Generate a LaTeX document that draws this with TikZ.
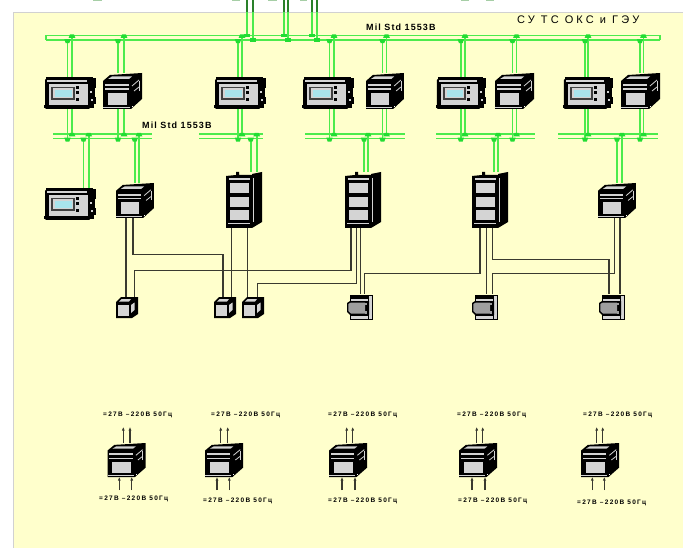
\documentclass[tikz,border=0pt]{standalone}
\usepackage{fontspec}
\setmainfont{Liberation Sans}
\newfontfamily\spacedfont[LetterSpace=12]{Liberation Sans}
\newfontfamily\pwrfont[LetterSpace=20]{Liberation Sans}
\newfontfamily\widefont[LetterSpace=28]{Liberation Sans}
\usetikzlibrary{calc,arrows.meta}
\definecolor{paper}{HTML}{FFFFCC}
\definecolor{busgreen}{HTML}{4CEB4C}
\definecolor{blobgreen}{HTML}{22DD33}
\definecolor{wire}{HTML}{3A3A30}
\definecolor{panelgray}{HTML}{D4D4D4}
\definecolor{screen}{HTML}{A8E4EC}
\tikzset{
  dev/.style={inner sep=0pt,outer sep=0pt,anchor=north west},
  gbus/.style={draw=busgreen,line width=1.7pt},
  gblob/.style={fill=blobgreen},
  ctl/.style={draw=wire,line width=1.5pt},
  arr/.style={draw=wire,line width=1.5pt,-{Latex[length=3.5pt,width=3pt]}},
  lab/.style={inner sep=0pt,font=\spacedfont\bfseries\fontsize{9}{10}\selectfont},
  pwr/.style={inner sep=0pt,font=\pwrfont\bfseries\fontsize{6.5}{7}\selectfont},
  busnode/.style={inner sep=0pt,outer sep=0pt,anchor=north west},
  panel/.pic={
    \fill[black,rounded corners=1pt] (1,2) rectangle (46,32);
    \fill[black] (0,28) rectangle (4,31);
    \fill[black] (2,0) rectangle (49,3);
    \fill[panelgray] (3,3) rectangle (47,5);
    \fill[black] (43,1) rectangle (52,11);
    \fill[black] (45,11) rectangle (51,20);
    \fill[black] (46,20) rectangle (52,27);
    \fill[black] (44,27) rectangle (50,31);
    \fill[panelgray] (5,7) rectangle (44,28);
    \fill[black!75] (7,10) rectangle (31,23);
    \fill[panelgray] (9,11.5) rectangle (29,21.5);
    \fill[screen] (11,13) rectangle (28,20);
    \fill[black] (32,9) rectangle (35,12);
    \fill[black] (32,14) rectangle (35,17);
    \fill[black] (32,21) rectangle (35,24);
    \fill[panelgray] (46,14) rectangle (48,16);
    \fill[panelgray] (47,22) rectangle (49,24);
  },
  boxdev/.pic={
    \fill[black] (0,8) -- (7,2) -- (39,0) -- (39,26) -- (28,36) -- (0,36) -- cycle;
    \fill[panelgray] (5,6) -- (9,3.5) -- (29,3.5) -- (26,6) -- cycle;
    \fill[panelgray] (2,11) rectangle (26,13);
    \fill[panelgray] (2,15.5) rectangle (26,17);
    \fill[panelgray] (5,20) rectangle (24,32);
    \fill[panelgray] (0,34) rectangle (27,35);
    \draw[panelgray,line width=.8pt] (29,13) -- (36,7);
    \draw[panelgray,line width=.8pt] (31,18) -- (36,14);
    \draw[panelgray,line width=.8pt] (36,8) -- (36,18);
    \fill[white] (29,33) rectangle (30,34);
  },
  tower/.pic={
    \fill[black] (0,4) -- (10,3) -- (10,0) -- (13,0) -- (13,3) -- (26,3) -- (26,2) -- (36,0) -- (36,50) -- (26,56) -- (0,56) -- cycle;
    \fill[panelgray] (3,6) rectangle (24,8);
    \fill[panelgray] (4,11) rectangle (23,21);
    \fill[panelgray] (4,25) rectangle (23,35);
    \fill[panelgray] (4,38) rectangle (23,48);
    \fill[panelgray] (2,51) rectangle (24,52);
    \draw[panelgray,line width=.5pt] (27,6) -- (27,50);
  },
  smalldev/.pic={
    \fill[black] (0,5) -- (5,0) -- (22,0) -- (22,17) -- (16,21) -- (0,21) -- cycle;
    \fill[panelgray] (3,4.5) -- (5.5,2) -- (15,2) -- (13,4.5) -- cycle;
    \fill[panelgray] (2,8) rectangle (12.5,18.5);
    \fill[panelgray] (15,8) -- (18.5,5.5) -- (18.5,13) -- (15,16) -- cycle;
  },
  graydev/.pic={
    \fill[black] (3,1) rectangle (26,26);
    \fill[panelgray] (22,2) rectangle (24.5,24.5);
    \fill[panelgray] (4,5) rectangle (21,7);
    \fill[black] (0,9) -- (3,7) -- (22,7) -- (22,21) -- (3,21) -- (0,18) -- cycle;
    \fill[gray!75] (1.3,10) -- (4,8.5) -- (18,8.5) -- (18,19.5) -- (4,19.5) -- (1.3,17) -- cycle;
    \fill[gray!75] (18,8.5) rectangle (20,11);
    \fill[gray!75] (18,17) rectangle (20,19.5);
    \fill[panelgray] (4,21.8) rectangle (21,24.8);
  },
}
\newcommand{\gdrop}[4]{%
  \draw[gbus] ([xshift=#3pt]#1) -- ([xshift=#3pt]#1 |- #2.south);
  \draw[gbus] ([xshift=#4pt]#1) -- ([xshift=#4pt]#1 |- #2.north);
  \fill[gblob] ([xshift=#3pt]#1 |- #2.south) ++(-3.2,-.8) -- ++(6.4,0) -- ++(-1.4,4) -- ++(-3.6,0) -- cycle;
  \fill[gblob] ([xshift=#4pt]#1 |- #2.north) ++(-2,-1) -- ++(4,0) -- ++(1.4,3.4) -- ++(-6.8,0) -- cycle;
}
\newcommand{\mkbus}[4]{% name,x1,x2,ytop
  \node[busnode,minimum width=#3pt-#2pt,minimum height=4.5pt] (#1) at (#2,#4) {};
  \draw[gbus] (#1.north west) -- (#1.north east);
  \draw[gbus] (#1.south west) -- (#1.south east);
}
\begin{document}
\begin{tikzpicture}[x=1pt,y=-1pt]
\useasboundingbox (0,0) rectangle (683,548);
\fill[white] (0,0) rectangle (683,548);
\fill[paper,draw=black!18,line width=1pt] (13.5,12.5) rectangle (690,555);
% green stubs at the top edge
\foreach \a/\b in {93/102,232/240,268/277,300/307,461/469,486/494}
  \fill[green!45!black!35] (\a,0) rectangle (\b,1.2);
% buses
\mkbus{bT}{46}{660}{35.5}
\mkbus{bA}{53}{152}{134}
\mkbus{bB}{199}{263}{134}
\mkbus{bC}{305}{405}{134}
\mkbus{bD}{436}{535}{134}
\mkbus{bE}{558}{658}{134}
\draw[gbus] (bT.north west) -- (bT.south west);
\draw[gbus] (bT.north east) -- (bT.south east);
% device nodes
\node[dev,minimum width=52pt,minimum height=32pt] (p1) at (44,77) {};
\node[dev,minimum width=39pt,minimum height=36pt] (x1) at (103,73) {};
\node[dev,minimum width=52pt,minimum height=32pt] (p2) at (214,77) {};
\node[dev,minimum width=52pt,minimum height=32pt] (p3) at (302,77) {};
\node[dev,minimum width=38pt,minimum height=36pt] (x2) at (366,73) {};
\node[dev,minimum width=50pt,minimum height=32pt] (p4) at (436,77) {};
\node[dev,minimum width=39pt,minimum height=36pt] (x3) at (495,73) {};
\node[dev,minimum width=50pt,minimum height=32pt] (p5) at (563,77) {};
\node[dev,minimum width=39pt,minimum height=36pt] (x4) at (621,73) {};
\node[dev,minimum width=52pt,minimum height=32pt] (p6) at (44,188) {};
\node[dev,minimum width=38pt,minimum height=35pt] (x5) at (116,183) {};
\node[dev,minimum width=36pt,minimum height=56pt] (t1) at (226,172) {};
\node[dev,minimum width=35pt,minimum height=56pt] (t2) at (345,172) {};
\node[dev,minimum width=37pt,minimum height=56pt] (t3) at (472,172) {};
\node[dev,minimum width=38pt,minimum height=35pt] (x6) at (598,183) {};
\node[dev,minimum width=22pt,minimum height=21pt] (s1) at (116,297) {};
\node[dev,minimum width=22pt,minimum height=21pt] (s2) at (214,297) {};
\node[dev,minimum width=23pt,minimum height=21pt] (s3) at (242,297) {};
\node[dev,minimum width=26pt,minimum height=26pt] (g1) at (347,294) {};
\node[dev,minimum width=27pt,minimum height=26pt] (g2) at (472,294) {};
\node[dev,minimum width=26pt,minimum height=26pt] (g3) at (599,294) {};
\node[dev,minimum width=39pt,minimum height=34pt] (q1) at (107.5,443) {};
\node[dev,minimum width=38pt,minimum height=34pt] (q2) at (205,443) {};
\node[dev,minimum width=39pt,minimum height=34pt] (q3) at (329,443) {};
\node[dev,minimum width=38pt,minimum height=34pt] (q4) at (459,443) {};
\node[dev,minimum width=38pt,minimum height=34pt] (q5) at (581,443) {};
% top feeders
\coordinate (f1) at (247,0); \coordinate (f2) at (253,0);
\coordinate (f3) at (284,0); \coordinate (f4) at (288,0);
\coordinate (f5) at (312,0); \coordinate (f6) at (317,0);
\foreach \f/\t in {f1/north,f2/south,f3/north,f4/south,f5/north,f6/south}{
  \draw[draw=black!45!busgreen,line width=1.3pt] (\f) -- (\f |- 0,12.5);
  \draw[gbus] (\f |- 0,12.5) -- (\f |- bT.\t);
  \fill[gblob] (\f |- bT.\t) ++(-3,-1.5) rectangle ++(6,3.5);
}
% green drops, upper row
\gdrop{p1.north}{bT}{-2.5}{2}
\gdrop{x1.north}{bT}{-4.5}{1.5}
\gdrop{p2.north}{bT}{-2}{2}
\gdrop{p3.north}{bT}{1.5}{6}
\gdrop{x2.north}{bT}{-2.5}{1.5}
\gdrop{p4.north}{bT}{-0.2}{4}
\gdrop{x3.north}{bT}{-2}{2}
\gdrop{p5.north}{bT}{-3}{0}
\gdrop{x4.north}{bT}{-0.5}{3}
\gdrop{p1.south}{bA}{-2.5}{2}
\gdrop{x1.south}{bA}{-4.5}{1.5}
\gdrop{p2.south}{bB}{-2}{2}
\gdrop{p3.south}{bC}{1.5}{6}
\gdrop{x2.south}{bC}{-2.5}{1.5}
\gdrop{p4.south}{bD}{-0.2}{4}
\gdrop{x3.south}{bD}{-2}{2}
\gdrop{p5.south}{bE}{-3}{0}
\gdrop{x4.south}{bE}{-0.5}{3}
% green drops, lower row
\gdrop{p6.north}{bA}{13.5}{18.7}
\gdrop{x5.north}{bA}{-.3}{4}
\gdrop{t1.north}{bB}{6.7}{12.7}
\gdrop{t2.north}{bC}{1.5}{5.5}
\gdrop{t3.north}{bD}{3.5}{7.5}
\gdrop{x6.north}{bE}{0}{5}
% control wires
\draw[ctl] ([xshift=-9pt]x5.south) -- ([xshift=-9pt]x5.south |- s1.north);
\draw[ctl] ([xshift=-2pt]x5.south) -- ++(0,36.7) -| ([xshift=-2pt]s2.north);
\draw[ctl] ([xshift=-12.3pt]t1.south) -- ([xshift=-12.3pt]t1.south |- s2.north);
\draw[ctl] ([xshift=3.3pt]t1.south) -- ([xshift=3.3pt]t1.south |- s3.north);
\draw[ctl] ([xshift=-11.5pt]t2.south) -- ++(0,42.7) -| ([xshift=7.3pt]s1.north);
\draw[ctl] ([xshift=-6.2pt]t2.south) -- ++(0,55.7) -| ([xshift=3.8pt]s3.north);
\draw[ctl] ([xshift=-1.8pt]t2.south) -- ([xshift=-1.8pt]t2.south |- g1.north);
\draw[ctl] ([xshift=-10.5pt]t3.south) -- ++(0,45.3) -| ([xshift=4.7pt]g1.north);
\draw[ctl] ([xshift=-3.8pt]t3.south) -- ([xshift=-3.8pt]t3.south |- g2.north);
\draw[ctl] ([xshift=2.2pt]t3.south) -- ++(0,31.3) -| ([xshift=-3pt]g3.north);
\draw[ctl] ([xshift=-2.7pt]x6.south) -- ++(0,55.3) -| ([xshift=7.2pt]g2.north);
\draw[ctl] ([xshift=3pt]x6.south) -- ([xshift=3pt]x6.south |- g3.north);
% power arrows
\foreach \n/\u/\v/\c/\d in {q1/-3.7/3/-7.7/4.7,q2/-3.3/3.7/-7/5.3,q3/-1.8/4.2/-6.5/6.5,q4/-1.3/4.7/-6/7,q5/-3.3/2.7/-7.7/4.3}{
  \draw[arr] ([xshift=\u pt]\n.north) -- ++(0,-16);
  \draw[arr] ([xshift=\v pt]\n.north) -- ++(0,-16);
  \draw[arr] ([xshift=\c pt]\n.south) ++(0,13) -- ([xshift=\c pt]\n.south);
  \draw[arr] ([xshift=\d pt]\n.south) ++(0,13) -- ([xshift=\d pt]\n.south);
}
% device drawings
\foreach \n in {p1,p2,p3,p6} \pic at (\n.north west) {panel};
\foreach \n in {p4,p5} \pic[xscale=.96] at (\n.north west) {panel};
\foreach \n in {x1,x3,x4} \pic at (\n.north west) {boxdev};
\pic[xscale=.97] at (x2.north west) {boxdev};
\foreach \n in {x5,x6} \pic[xscale=.97,yscale=.97] at (\n.north west) {boxdev};
\foreach \n in {q1,q2,q3,q4,q5} \pic[xscale=.98,yscale=.945] at (\n.north west) {boxdev};
\foreach \n in {t1,t2,t3} \pic at (\n.north west) {tower};
\foreach \n in {s1,s2,s3} \pic at (\n.north west) {smalldev};
\foreach \n in {g1,g2,g3} \pic at (\n.north west) {graydev};
% labels
\node[lab,anchor=west] (l1) at (142,125) {Mil Std 1553B};
\node[lab,anchor=west] (l2) at (366,27) {Mil Std 1553B};
\node[inner sep=0pt,anchor=west,font=\widefont\fontsize{11}{12}\selectfont] (l3) at (517,19.5) {СУ ТС ОКС и ГЭУ};
\foreach \i/\x/\y in {1/103/415,2/211/415,3/328/415,4/457/415,5/583/415,6/99/499,7/203/501,8/328/501,9/458/501,10/577/503}
  \node[pwr,anchor=west] (w\i) at (\x,\y) {=27В –220В 50Гц};
\end{tikzpicture}
\end{document}
